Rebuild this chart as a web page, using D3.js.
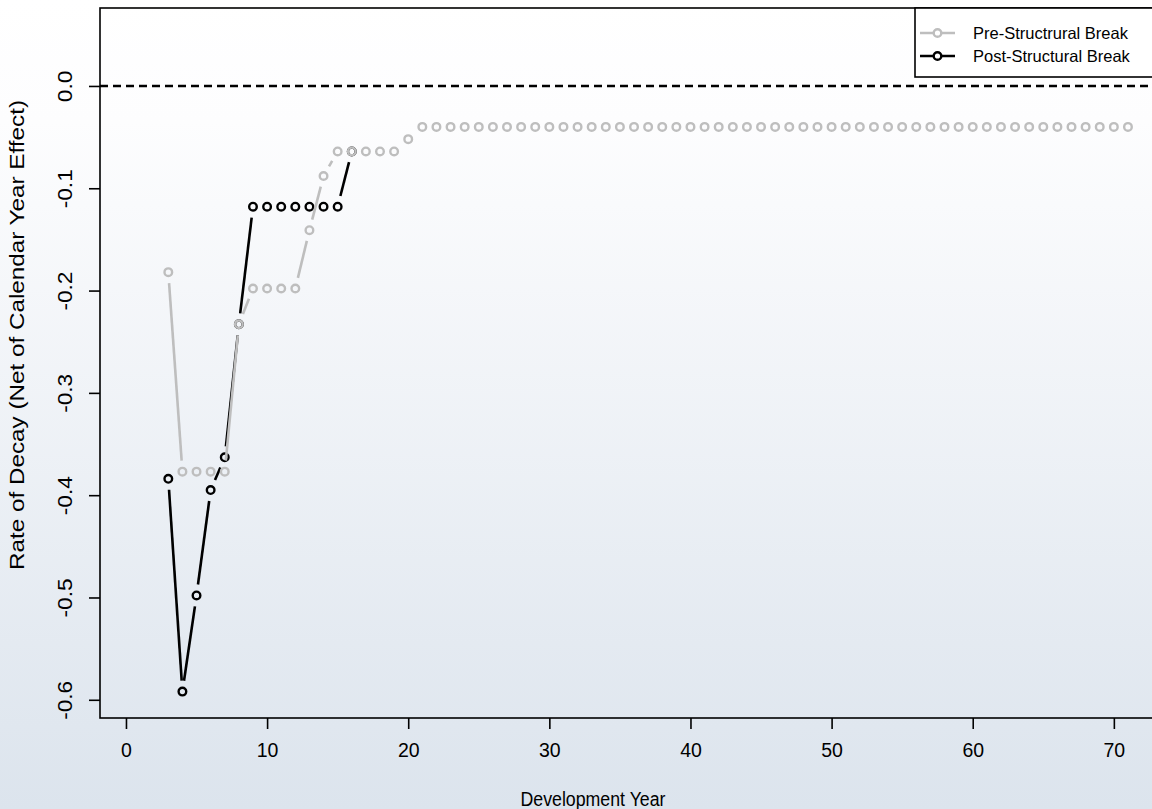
<!DOCTYPE html>
<html>
<head>
<meta charset="utf-8">
<script src="https://cdn.jsdelivr.net/npm/d3@7"></script>
<style>
html,body{margin:0;padding:0;background:#fff;}
svg{display:block;font-family:"Liberation Sans",Arial,Helvetica,sans-serif;}
</style>
</head>
<body>
<svg id="chart" width="1152" height="809"></svg>
<script>
// ---- data ----
const preYears = [3,4,5,6,7,8,9,10,11,12,13,14,15,16,17,18,19,20,21,22,23,24,25,26,27,28,29,30,31,32,33,34,35,36,37,38,39,40,41,42,43,44,45,46,47,48,49,50,51,52,53,54,55,56,57,58,59,60,61,62,63,64,65,66,67,68,69,70,71];
const preValues = [-0.182,-0.377,-0.377,-0.377,-0.377,-0.233,-0.198,-0.198,-0.198,-0.198,-0.141,-0.088,-0.064,-0.064,-0.064,-0.064,-0.064,-0.052,
  -0.040,-0.040,-0.040,-0.040,-0.040,-0.040,-0.040,-0.040,-0.040,-0.040,-0.040,-0.040,-0.040,-0.040,-0.040,-0.040,-0.040,
  -0.040,-0.040,-0.040,-0.040,-0.040,-0.040,-0.040,-0.040,-0.040,-0.040,-0.040,-0.040,-0.040,-0.040,-0.040,-0.040,-0.040,
  -0.040,-0.040,-0.040,-0.040,-0.040,-0.040,-0.040,-0.040,-0.040,-0.040,-0.040,-0.040,-0.040,-0.040,-0.040,-0.040,-0.040];
const postYears = [3,4,5,6,7,8,9,10,11,12,13,14,15,16];
const postValues = [-0.384,-0.592,-0.498,-0.395,-0.363,-0.233,-0.118,-0.118,-0.118,-0.118,-0.118,-0.118,-0.118,-0.064];
const xTicks = [0,10,20,30,40,50,60,70];
const xTickLabels = ["0","10","20","30","40","50","60","70"];
const yTicks = [0,-0.1,-0.2,-0.3,-0.4,-0.5,-0.6];
const yTickLabels = ["0.0","-0.1","-0.2","-0.3","-0.4","-0.5","-0.6"];
const seriesNames = ["Pre-Structrural Break","Post-Structural Break"];
const seriesColors = ["#bebebe","#000000"];
const xTitle = "Development Year";
const yTitle = "Rate of Decay (Net of Calendar Year Effect)";

// ---- layout ----
const W = 1152, H = 809;
const box = {left:100, right:1160, top:8, bottom:718};
const svg = d3.select("#chart");

const x = d3.scaleLinear().domain([-1.84, 73.27]).range([box.left, box.right]);
const y = d3.scaleLinear().domain([0.0762, -0.6178]).range([box.top, box.bottom]);

// background gradient
const defs = svg.append("defs");
const grad = defs.append("linearGradient").attr("id","bg").attr("x1",0).attr("y1",0).attr("x2",0).attr("y2",1);
grad.append("stop").attr("offset","0%").attr("stop-color","#ffffff");
grad.append("stop").attr("offset","15%").attr("stop-color","#fdfdfe");
grad.append("stop").attr("offset","100%").attr("stop-color","#dce4ed");
svg.append("rect").attr("width",W).attr("height",H).attr("fill","url(#bg)");

// zero reference line
svg.append("line")
  .attr("x1",box.left).attr("x2",box.right)
  .attr("y1",y(0)).attr("y2",y(0))
  .attr("stroke","#000").attr("stroke-width",2.4).attr("stroke-dasharray","8,5");

// series drawing (type = "b": lines with gaps at points)
const GAP = 11;
function drawSeries(xs, vs, color){
  const pts = xs.map((d,i)=>[x(d), y(vs[i])]);
  const g = svg.append("g");
  for(let i=0;i<pts.length-1;i++){
    const [x0,y0] = pts[i], [x1,y1] = pts[i+1];
    const dx = x1-x0, dy = y1-y0, L = Math.hypot(dx,dy);
    if(L <= 2*GAP) continue;
    const ux = dx/L, uy = dy/L;
    g.append("line")
      .attr("x1",x0+ux*GAP).attr("y1",y0+uy*GAP)
      .attr("x2",x1-ux*GAP).attr("y2",y1-uy*GAP)
      .attr("stroke",color).attr("stroke-width",2.6);
  }
  g.selectAll("circle").data(pts).enter().append("circle")
    .attr("cx",d=>d[0]).attr("cy",d=>d[1]).attr("r",3.8)
    .attr("fill","none").attr("stroke",color).attr("stroke-width",2.4);
}
drawSeries(postYears, postValues, seriesColors[1]);
drawSeries(preYears, preValues, seriesColors[0]);

// box
svg.append("rect")
  .attr("x",box.left).attr("y",box.top)
  .attr("width",box.right-box.left).attr("height",box.bottom-box.top)
  .attr("fill","none").attr("stroke","#000").attr("stroke-width",1.6);

// x axis
const xAxis = d3.axisBottom(x).tickValues(xTicks)
  .tickFormat((d,i)=>xTickLabels[i]).tickSize(11).tickPadding(14);
const gx = svg.append("g").attr("transform",`translate(0,${box.bottom})`).call(xAxis);
gx.select(".domain").remove();
gx.selectAll(".tick line").attr("stroke","#000").attr("stroke-width",1.6);
gx.selectAll(".tick text").attr("font-size",19.5).attr("fill","#000")
  .attr("font-family","Liberation Sans, Arial, sans-serif");

// y axis
const yAxis = d3.axisLeft(y).tickValues(yTicks)
  .tickFormat((d,i)=>yTickLabels[i]).tickSize(11);
const gy = svg.append("g").attr("transform",`translate(${box.left},0)`).call(yAxis);
gy.select(".domain").remove();
gy.selectAll(".tick line").attr("stroke","#000").attr("stroke-width",1.6);
gy.selectAll(".tick text").remove();
gy.selectAll(".tick").append("text")
  .attr("transform","translate(-28,0) rotate(-90) scale(1.16,1)")
  .attr("text-anchor","middle")
  .attr("font-size",19.5).attr("fill","#000")
  .attr("font-family","Liberation Sans, Arial, sans-serif")
  .text((d,i)=>yTickLabels[i]);

// axis titles
svg.append("text").attr("x",593).attr("y",806)
  .attr("text-anchor","middle").attr("font-size",19.5).attr("fill","#000")
  .attr("textLength",145).attr("lengthAdjust","spacingAndGlyphs")
  .text(xTitle);
svg.append("text")
  .attr("transform",`translate(24,335) rotate(-90)`)
  .attr("text-anchor","middle").attr("font-size",19.5).attr("fill","#000")
  .attr("textLength",470).attr("lengthAdjust","spacingAndGlyphs")
  .text(yTitle);

// legend
const lg = svg.append("g");
lg.append("rect").attr("x",915).attr("y",box.top).attr("width",260).attr("height",69)
  .attr("fill","#fff").attr("stroke","#000").attr("stroke-width",1.6);
const rows = [33,56];
const legendColors = [seriesColors[0], seriesColors[1]];
seriesNames.forEach((name,i)=>{
  const ry = rows[i];
  lg.append("line").attr("x1",920).attr("x2",955).attr("y1",ry).attr("y2",ry)
    .attr("stroke",legendColors[i]).attr("stroke-width",2.6);
  lg.append("circle").attr("cx",937.5).attr("cy",ry).attr("r",3.8)
    .attr("fill","#fff").attr("stroke",legendColors[i]).attr("stroke-width",2.4);
  lg.append("text").attr("x",973).attr("y",ry).attr("dy","0.35em")
    .attr("font-size",16.5).attr("fill","#000").text(name);
});
</script>
</body>
</html>
